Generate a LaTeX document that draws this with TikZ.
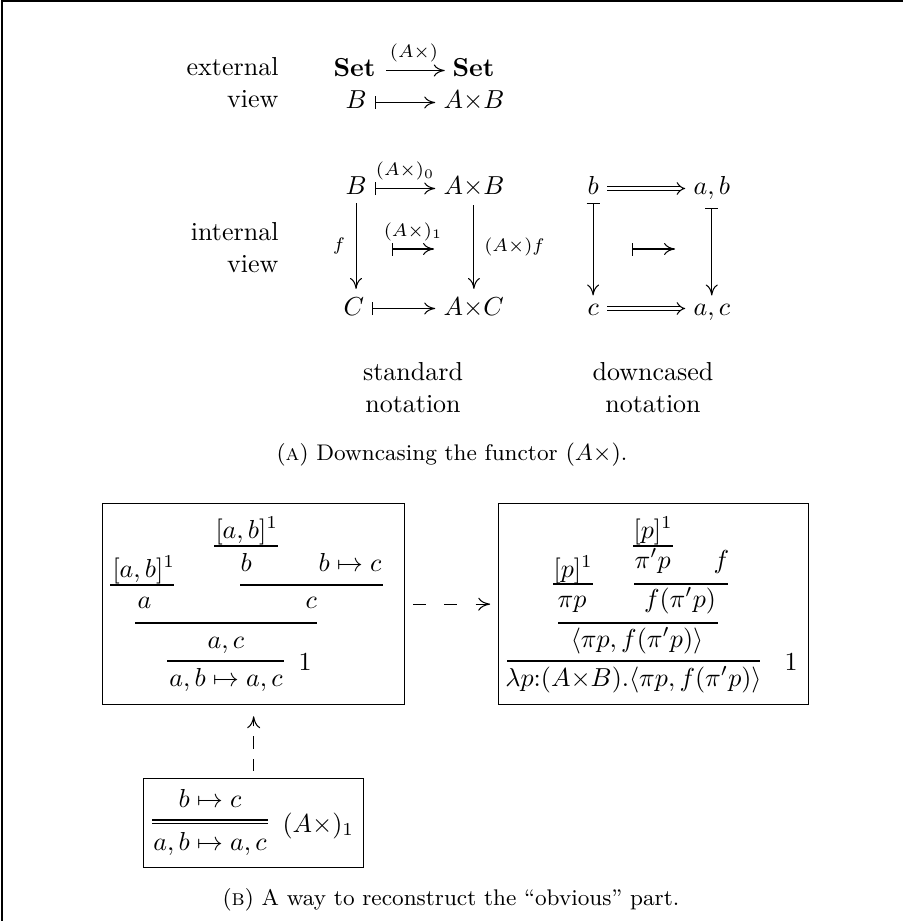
\documentclass[tikz,border=0pt]{standalone}
\usetikzlibrary{arrows.meta}
\begin{document}
\begin{tikzpicture}[x=0.3846pt,y=-0.3846pt,
  every node/.style={inner sep=0pt},
  tip/.style={-{Computer Modern Rightarrow[length=4.2pt,width=4.6pt]}},
  mapsto/.style={{Bar[width=5pt]}-{Computer Modern Rightarrow[length=4.2pt,width=4.6pt]}},
  implies/.style={double, double distance=1.3pt, -{Implies}},
  gap/.style={shorten <=3pt, shorten >=3pt},
  boxed/.style={draw, line width=0.5pt, anchor=north west},
  dasharrow/.style={-{Computer Modern Rightarrow[length=4.6pt,width=5pt]}},
  captxt/.style={anchor=base, font=\fontsize{8.7}{10.5}\selectfont},
  prf/.style={line width=0.45pt}
]
\useasboundingbox (0,0) rectangle (903,921);
% frame
\draw[line width=0.6pt] (2,921) -- (2,0.8) -- (903,0.8);

% ---------- external view ----------
\node[anchor=base east] (ext1) at (279,76) {external};
\node[anchor=base east] (ext2) at (279,108) {view};
\node[anchor=base west] (set1) at (333,77) {$\mathbf{Set}$};
\node[anchor=base west] (set2) at (452,77) {$\mathbf{Set}$};
\draw[tip, shorten <=4pt, shorten >=2.8pt] ([yshift=2.5pt]set1.base east) -- node[above=3pt]{$\scriptstyle (A\times)$} ([yshift=2.5pt]set2.base west);
\node[anchor=base west] (eB) at (345,109) {$B$};
\node[anchor=base west] (eAB) at (443,109) {$A{\times}B$};
\draw[mapsto, gap] ([yshift=2.5pt]eB.base east) -- ([yshift=2.5pt]eAB.base west);

% ---------- internal view, standard ----------
\node[anchor=base east] (int1) at (279,240) {internal};
\node[anchor=base east] (int2) at (279,272) {view};
\node[anchor=base west] (B) at (345,195) {$B$};
\node[anchor=base west] (AB) at (443,195) {$A{\times}B$};
\node[anchor=base west] (C) at (343,315) {$C$};
\node[anchor=base west] (AC) at (443,315) {$A{\times}C$};
\draw[mapsto, gap] ([yshift=2.5pt]B.base east) -- node[above=3pt]{$\scriptstyle (A\times)_0$} ([yshift=2.5pt]AB.base west);
\draw[mapsto, gap] ([yshift=2.5pt]C.base east) -- ([yshift=2.5pt]AC.base west);
\draw[tip, gap] (B.south) -- node[left=4pt]{$\scriptstyle f$} (B.south |- C.north);
\draw[tip, gap] (AB.south) -- node[right=3.8pt]{$\scriptstyle (A\times)f$} (AB.south |- AC.north);
\coordinate (m1) at (392,249);
\coordinate (m2) at (434,249);
\draw[mapsto] (m1) -- node[above=3pt]{$\scriptstyle (A\times)_1$} (m2);

% ---------- downcased ----------
\node[anchor=base west] (db) at (587,195) {$b$};
\node[anchor=base west] (dab) at (693,195) {$a,b$};
\node[anchor=base west] (dc) at (587,315) {$c$};
\node[anchor=base west] (dac) at (693,315) {$a,c$};
\draw[implies, gap] ([yshift=2.5pt]db.base east) -- ([yshift=2.5pt]dab.base west);
\draw[implies, gap] ([yshift=2.5pt]dc.base east) -- ([yshift=2.5pt]dac.base west);
\draw[mapsto, gap] (db.south) -- (db.south |- dc.north);
\draw[mapsto, gap] (dab.south) -- (dab.south |- dac.north);
\coordinate (m3) at (632,249);
\coordinate (m4) at (675,249);
\draw[mapsto] (m3) -- (m4);

% labels
\node[anchor=base] (l1) at (413,380) {standard};
\node[anchor=base] (l2) at (413,412) {notation};
\node[anchor=base] (l3) at (653,380) {downcased};
\node[anchor=base] (l4) at (653,412) {notation};
\node[captxt] (capa) at (452,460) {(\textsc{a}) Downcasing the functor $(A\times)$.};

% ---------- left proof box ----------
\node[boxed, minimum width=302*0.3846pt, minimum height=201*0.3846pt] (lbox) at (102,503) {};
\node[anchor=base west] (p1) at (215,538) {$[a,b]^1$};
\draw[prf] (214,546) -- (278,546);
\node[anchor=base west] (p2) at (112,577) {$[a,b]^1$};
\draw[prf] (110,585) -- (174,585);
\node[anchor=base west] (p3) at (240,571) {$b$};
\node[anchor=base west] (p4) at (318,571) {$b\mapsto c$};
\draw[prf] (240,585) -- (383,585);
\node[anchor=base west] (p5) at (137,608) {$a$};
\node[anchor=base west] (p6) at (305,608) {$c$};
\draw[prf] (135,623) -- (317,623);
\node[anchor=base] (p7) at (226,648) {$a,c$};
\draw[prf] (167,661) -- (284,661);
\node[anchor=base west] (p8) at (298,670) {$1$};
\node[anchor=base] (p9) at (226,686) {$a,b\mapsto a,c$};

% ---------- right proof box ----------
\node[boxed, minimum width=310*0.3846pt, minimum height=201*0.3846pt] (rbox) at (498,503) {};
\node[anchor=base west] (q1) at (633,538) {$[p]^1$};
\draw[prf] (633,546) -- (673,546);
\node[anchor=base west] (q2) at (553,577) {$[p]^1$};
\draw[prf] (553,584) -- (593,584);
\node[anchor=base west] (q3) at (634,568) {$\pi'p$};
\node[anchor=base west] (q4) at (713,568) {$f$};
\draw[prf] (634,584) -- (728,584);
\node[anchor=base west] (q5) at (557,607) {$\pi p$};
\node[anchor=base] (q6) at (680,607) {$f(\pi'p)$};
\draw[prf] (558,623) -- (718,623);
\node[anchor=base] (q7) at (637,647) {$\langle \pi p, f(\pi'p)\rangle$};
\draw[prf] (507,661) -- (760,661);
\node[anchor=base west] (q8) at (784,670) {$1$};
\node[anchor=base] (q9) at (633.5,686) {$\lambda p{:}(A{\times}B).\langle \pi p, f(\pi'p)\rangle$};

% ---------- lower box ----------
\node[boxed, minimum width=220*0.3846pt, minimum height=89*0.3846pt] (lowbox) at (143,778) {};
\node[anchor=base] (r1) at (210,807) {$b\mapsto c$};
\draw[prf] (152,820) -- (268,820);
\draw[prf] (152,823.5) -- (268,823.5);
\node[anchor=base] (r2) at (210,850) {$a,b\mapsto a,c$};
\node[anchor=base west] (r3) at (282,832) {$(A\times)_1$};

% dashed connectors
\draw[dasharrow, dash pattern=on 5pt off 7pt, shorten <=3pt, shorten >=3pt] (lbox.east) -- (rbox.west);
\draw[dasharrow, dash pattern=on 4.8pt off 3.8pt, shorten <=2.7pt, shorten >=4.2pt] (lowbox.north) -- (lbox.south);

\node[captxt] (capb) at (451,905) {(\textsc{b}) A way to reconstruct the ``obvious'' part.};
\end{tikzpicture}
\end{document}
